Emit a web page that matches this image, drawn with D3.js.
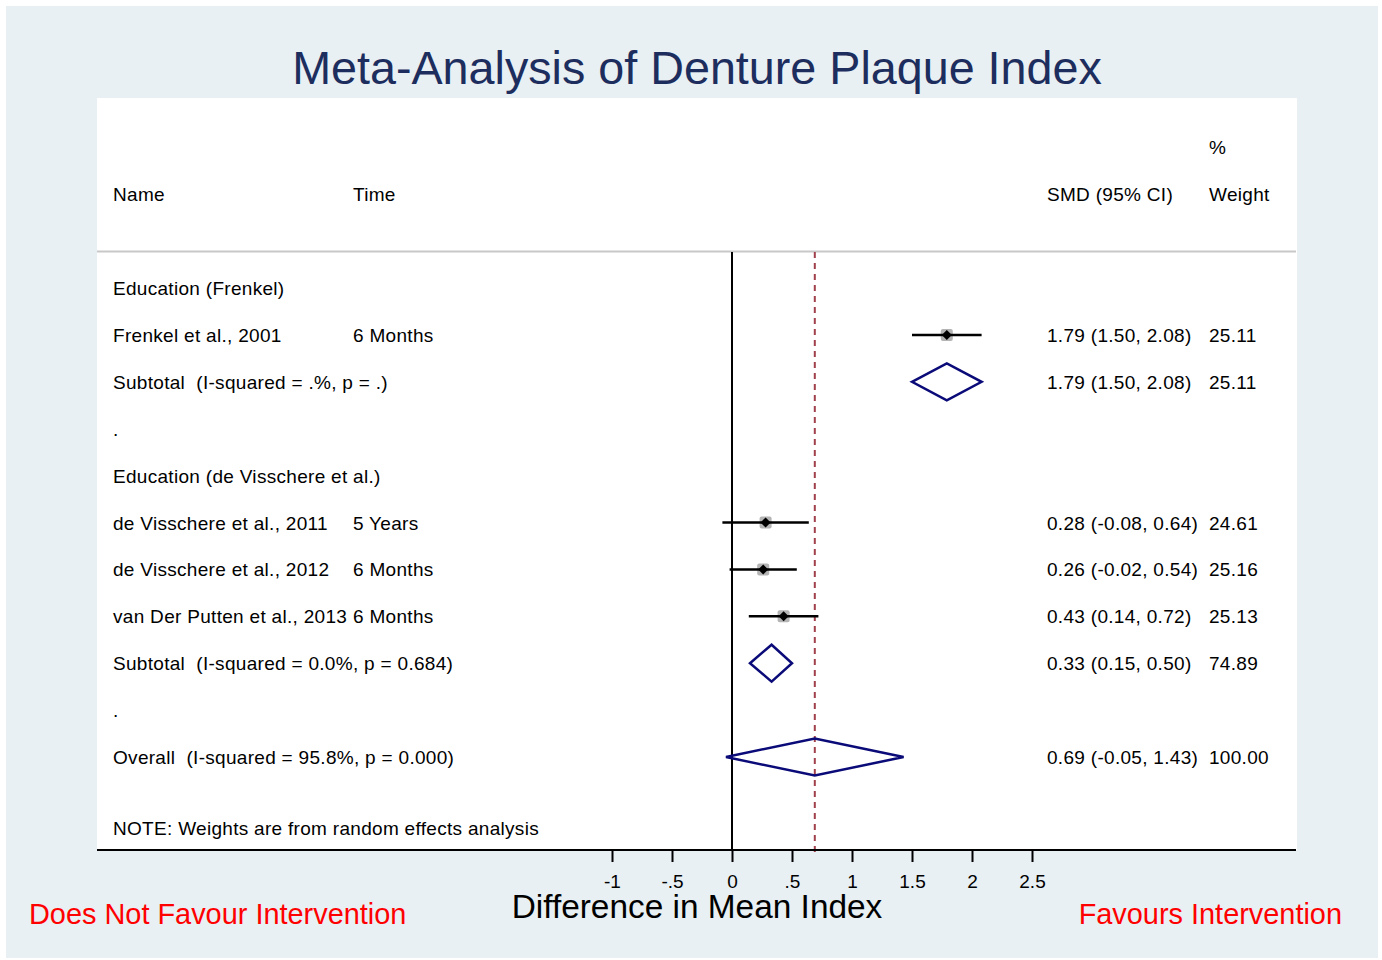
<!DOCTYPE html>
<html>
<head>
<meta charset="utf-8">
<script src="https://cdn.jsdelivr.net/npm/d3@7"></script>
<style>
  body { margin: 0; background: #fff; }
  svg text { font-family: "Liberation Sans", Arial, sans-serif; white-space: pre; }
</style>
</head>
<body>
<svg id="chart"></svg>
<script>
// study rows (label, time, estimate, lo, hi, weight text, type)
const rowNames = ["Education (Frenkel)", "Frenkel et al., 2001", "Subtotal  (I-squared = .%, p = .)", ".",
  "Education (de Visschere et al.)", "de Visschere et al., 2011", "de Visschere et al., 2012",
  "van Der Putten et al., 2013", "Subtotal  (I-squared = 0.0%, p = 0.684)", ".",
  "Overall  (I-squared = 95.8%, p = 0.000)"];
const rowTimes = ["", "6 Months", "", "", "", "5 Years", "6 Months", "6 Months", "", "", ""];
const rowKinds = ["head", "study", "sub", "blank", "head", "study", "study", "study", "sub", "blank", "overall"];
const smd = [null, 1.79, 1.79, null, null, 0.28, 0.26, 0.43, 0.33, null, 0.69];
const ciLo = [null, 1.50, 1.50, null, null, -0.08, -0.02, 0.14, 0.15, null, -0.05];
const ciHi = [null, 2.08, 2.08, null, null, 0.64, 0.54, 0.72, 0.50, null, 1.43];
const ciText = ["", "1.79 (1.50, 2.08)", "1.79 (1.50, 2.08)", "", "", "0.28 (-0.08, 0.64)",
  "0.26 (-0.02, 0.54)", "0.43 (0.14, 0.72)", "0.33 (0.15, 0.50)", "", "0.69 (-0.05, 1.43)"];
const weights = ["", "25.11", "25.11", "", "", "24.61", "25.16", "25.13", "74.89", "", "100.00"];
const xTicks = [-1, -0.5, 0, 0.5, 1, 1.5, 2, 2.5];
const overallEst = 0.69;

const W = 1382, H = 960;
const svg = d3.select("#chart").attr("width", W).attr("height", H);

// outer panel
svg.append("rect").attr("x", 6).attr("y", 6).attr("width", 1372).attr("height", 952).attr("fill", "#e8f0f3");
svg.append("rect").attr("x", 97).attr("y", 98).attr("width", 1200).attr("height", 752).attr("fill", "#fff");

svg.append("text").attr("x", 697).attr("y", 84).attr("text-anchor", "middle")
  .attr("font-size", "46.7px").attr("fill", "#1c2d5e")
  .text("Meta-Analysis of Denture Plaque Index");

const x = d3.scaleLinear().domain([0, 1]).range([732, 852]);
const y = d3.scalePoint().domain(d3.range(rowNames.length)).range([288, 757]);

// header
const fs = "19px", ls = "0.3px";
function txt(xp, yp, s) {
  return svg.append("text").attr("x", xp).attr("y", yp).attr("font-size", fs)
    .attr("letter-spacing", ls).text(s);
}
txt(113, 201, "Name");
txt(353, 201, "Time");
txt(1047, 201, "SMD (95% CI)");
txt(1209, 201, "Weight");
txt(1209, 154, "%");
svg.append("line").attr("x1", 97).attr("x2", 1296).attr("y1", 251.5).attr("y2", 251.5)
  .attr("stroke", "#c8c8c8").attr("stroke-width", 2);

// reference lines
svg.append("line").attr("x1", x(0)).attr("x2", x(0)).attr("y1", 252).attr("y2", 850)
  .attr("stroke", "#000").attr("stroke-width", 2);
svg.append("line").attr("x1", x(overallEst)).attr("x2", x(overallEst)).attr("y1", 252).attr("y2", 856)
  .attr("stroke", "#a0404a").attr("stroke-width", 2).attr("stroke-dasharray", "6,5");

const rows = rowNames.map((n, i) => ({ i, n, t: rowTimes[i], k: rowKinds[i], e: smd[i], lo: ciLo[i], hi: ciHi[i], ci: ciText[i], w: weights[i] }));

const g = svg.append("g").attr("font-size", fs).attr("letter-spacing", ls);
g.selectAll(".nm").data(rows).enter().append("text")
  .attr("x", 113).attr("y", d => y(d.i) + 7).text(d => d.n);
g.selectAll(".tm").data(rows).enter().append("text")
  .attr("x", 353).attr("y", d => y(d.i) + 7).text(d => d.t);
g.selectAll(".ci").data(rows).enter().append("text")
  .attr("x", 1047).attr("y", d => y(d.i) + 7).text(d => d.ci);
g.selectAll(".wt").data(rows).enter().append("text")
  .attr("x", 1209).attr("y", d => y(d.i) + 7).text(d => d.w);

const studies = rows.filter(d => d.k === "study");
g.selectAll(".box").data(studies).enter().append("rect")
  .attr("x", d => x(d.e) - 6).attr("y", d => y(d.i) - 6).attr("width", 12).attr("height", 12)
  .attr("rx", 2).attr("fill", "#b4b4b4");
g.selectAll(".cil").data(studies).enter().append("line")
  .attr("x1", d => x(d.lo)).attr("x2", d => x(d.hi)).attr("y1", d => y(d.i)).attr("y2", d => y(d.i))
  .attr("stroke", "#000").attr("stroke-width", 2.5);
g.selectAll(".pt").data(studies).enter().append("path")
  .attr("d", d => { const cx = x(d.e), cy = y(d.i); return `M${cx - 5},${cy}L${cx},${cy - 5}L${cx + 5},${cy}L${cx},${cy + 5}Z`; })
  .attr("fill", "#000");

const pooled = rows.filter(d => d.k === "sub" || d.k === "overall");
g.selectAll(".dia").data(pooled).enter().append("path")
  .attr("d", d => { const cy = y(d.i), h = 18.5; return `M${x(d.lo)},${cy}L${x(d.e)},${cy - h}L${x(d.hi)},${cy}L${x(d.e)},${cy + h}Z`; })
  .attr("fill", "none").attr("stroke", "#0a0a78").attr("stroke-width", 2.5);

txt(113, 835, "NOTE: Weights are from random effects analysis");

// axis
svg.append("line").attr("x1", 97).attr("x2", 1296).attr("y1", 850).attr("y2", 850)
  .attr("stroke", "#000").attr("stroke-width", 2);
const axis = d3.axisBottom(x).tickValues(xTicks).tickSize(12).tickSizeOuter(0)
  .tickFormat(d => String(d).replace("0.", "."));
const ax = svg.append("g").attr("transform", "translate(0,850)").call(axis);
ax.select(".domain").remove();
ax.selectAll(".tick line").attr("stroke", "#000").attr("stroke-width", 2);
ax.selectAll(".tick text").attr("font-size", fs).attr("fill", "#000").attr("dy", "1.2em")
  .attr("font-family", "Liberation Sans, Arial, sans-serif");

svg.append("text").attr("x", 697).attr("y", 918).attr("text-anchor", "middle")
  .attr("font-size", "33.4px").attr("fill", "#000").text("Difference in Mean Index");
svg.append("text").attr("x", 29).attr("y", 924).attr("font-size", "28.9px").attr("fill", "#ff0000")
  .text("Does Not Favour Intervention");
svg.append("text").attr("x", 1342).attr("y", 924).attr("text-anchor", "end").attr("font-size", "28.9px")
  .attr("fill", "#ff0000").text("Favours Intervention");
</script>
</body>
</html>
